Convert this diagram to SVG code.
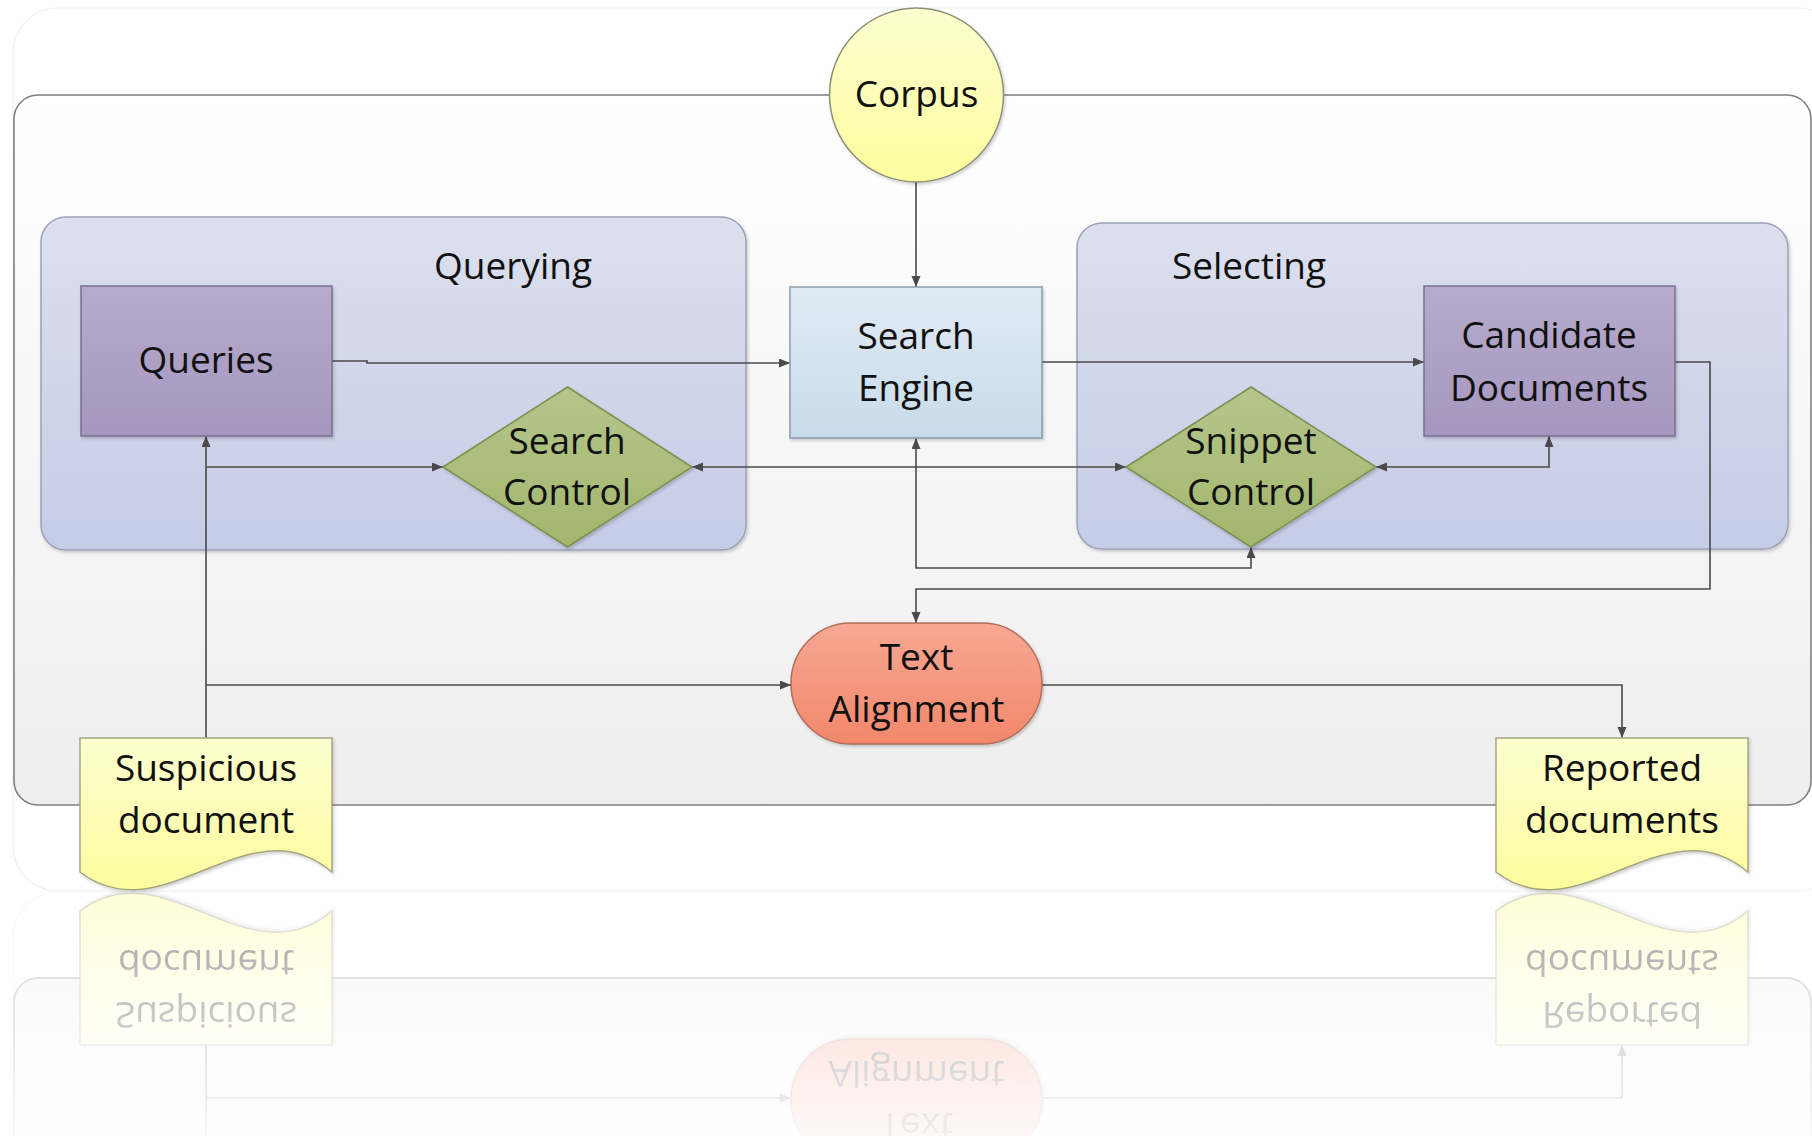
<svg xmlns="http://www.w3.org/2000/svg" xmlns:xlink="http://www.w3.org/1999/xlink" width="1812" height="1136" viewBox="0 0 1812 1136">
  <defs>
    <style>
      text { font-family: "Open Sans", "Liberation Sans", sans-serif; font-size: 37px; fill: #111; text-anchor: middle; }
      .ln { fill: none; stroke: #4a4a4a; stroke-width: 1.6; }
      .arr { marker-end: url(#ah); }
      .arr2 { marker-start: url(#ah); marker-end: url(#ah); }
      .panel { stroke: #9aa1b8; stroke-width: 1.5; fill: url(#gPanel); filter: url(#sh); }
      .box { stroke-width: 1.5; filter: url(#sh); }
    </style>
    <linearGradient id="gOuter" x1="0" y1="0" x2="0" y2="1">
      <stop offset="0" stop-color="#ffffff"/>
      <stop offset="1" stop-color="#eeeeee"/>
    </linearGradient>
    <linearGradient id="gPanel" x1="0" y1="0" x2="0" y2="1">
      <stop offset="0" stop-color="#dce0ee"/>
      <stop offset="1" stop-color="#c5cce6"/>
    </linearGradient>
    <linearGradient id="gPurple" x1="0" y1="0" x2="0" y2="1">
      <stop offset="0" stop-color="#b6abcc"/>
      <stop offset="1" stop-color="#a696bf"/>
    </linearGradient>
    <linearGradient id="gBlue" x1="0" y1="0" x2="0" y2="1">
      <stop offset="0" stop-color="#e0eaf4"/>
      <stop offset="1" stop-color="#c8dbea"/>
    </linearGradient>
    <linearGradient id="gGreen" x1="0" y1="0" x2="0" y2="1">
      <stop offset="0" stop-color="#b5c68c"/>
      <stop offset="1" stop-color="#a2b66c"/>
    </linearGradient>
    <linearGradient id="gSalmon" x1="0" y1="0" x2="0" y2="1">
      <stop offset="0" stop-color="#f7a893"/>
      <stop offset="1" stop-color="#f2876b"/>
    </linearGradient>
    <linearGradient id="gYellow" x1="0" y1="0" x2="0" y2="1">
      <stop offset="0" stop-color="#fefed0"/>
      <stop offset="1" stop-color="#fcfc9e"/>
    </linearGradient>
    <linearGradient id="gFade" gradientUnits="userSpaceOnUse" x1="0" y1="891.5" x2="0" y2="1136">
      <stop offset="0" stop-color="#fff" stop-opacity="0.4"/>
      <stop offset="1" stop-color="#fff" stop-opacity="0.07"/>
    </linearGradient>
    <mask id="fade" maskUnits="userSpaceOnUse" x="0" y="891.5" width="1812" height="245">
      <rect x="0" y="891.5" width="1812" height="245" fill="url(#gFade)"/>
    </mask>
    <filter id="sh" x="-10%" y="-10%" width="125%" height="130%">
      <feDropShadow dx="1.5" dy="2" stdDeviation="1.5" flood-color="#000" flood-opacity="0.18"/>
    </filter>
    <marker id="ah" markerUnits="userSpaceOnUse" markerWidth="12" markerHeight="10" refX="11" refY="4.5" orient="auto-start-reverse">
      <path d="M0,0 L11,4.5 L0,9 z" fill="#4a4a4a"/>
    </marker>
  </defs>

  <rect x="0" y="0" width="1812" height="1136" fill="#ffffff"/>

  <g id="scene">
    <!-- page frame and main container -->
    <rect x="13" y="8" width="1830" height="883" rx="45" fill="#ffffff" stroke="#f0f0f0" stroke-width="1.2"/>
    <rect id="container" x="14" y="95" width="1797" height="710" rx="24" fill="url(#gOuter)" stroke="#7f7f7f" stroke-width="1.6"/>

    <!-- swimlane panels -->
    <g id="querying">
      <rect class="panel" x="41" y="217" width="705" height="333" rx="25"/>
      <text x="513" y="279">Querying</text>
    </g>
    <g id="selecting">
      <rect class="panel" x="1077" y="223" width="711" height="326" rx="25"/>
      <text x="1249" y="279">Selecting</text>
    </g>

    <!-- connectors -->
    <g id="connectors">
      <path class="ln arr" d="M916,182 V287"/>
      <path class="ln arr" d="M332,361 H367 V363 H790"/>
      <path class="ln arr" d="M1042,362 H1424"/>
      <path class="ln arr" d="M206,738 V436"/>
      <path class="ln arr" d="M206,467 H443"/>
      <path class="ln arr2" d="M692,467 H1126"/>
      <path class="ln arr2" d="M1376,467 H1549 V436"/>
      <path class="ln arr2" d="M916,438 V568 H1251 V547"/>
      <path class="ln arr" d="M1675,362 H1710 V589 H916 V623"/>
      <path class="ln arr" d="M206,685 H791"/>
      <path class="ln arr" d="M1042,685 H1622 V738"/>
    </g>

    <!-- nodes -->
    <g id="corpus">
      <circle class="box" cx="916.5" cy="95" r="87" fill="url(#gYellow)" stroke="#8e8e76"/>
      <text x="916.5" y="107">Corpus</text>
    </g>
    <g id="queries">
      <rect class="box" x="81" y="286" width="251" height="150" fill="url(#gPurple)" stroke="#7a6f8c"/>
      <text x="206" y="373">Queries</text>
    </g>
    <g id="search-engine">
      <rect class="box" x="790" y="287" width="252" height="151" fill="url(#gBlue)" stroke="#8a9aab"/>
      <text x="916" y="349">Search</text>
      <text x="916" y="401">Engine</text>
    </g>
    <g id="candidate-documents">
      <rect class="box" x="1424" y="286" width="251" height="150" fill="url(#gPurple)" stroke="#7a6f8c"/>
      <text x="1549" y="348">Candidate</text>
      <text x="1549" y="401">Documents</text>
    </g>
    <g id="search-control">
      <path class="box" d="M443,467 L567.5,387 L692,467 L567.5,547 Z" fill="url(#gGreen)" stroke="#7e904f"/>
      <text x="567" y="454">Search</text>
      <text x="567" y="505">Control</text>
    </g>
    <g id="snippet-control">
      <path class="box" d="M1126,467 L1251,387 L1376,467 L1251,547 Z" fill="url(#gGreen)" stroke="#7e904f"/>
      <text x="1251" y="454">Snippet</text>
      <text x="1251" y="505">Control</text>
    </g>
    <g id="text-alignment">
      <rect class="box" x="791" y="623" width="251" height="121" rx="60" fill="url(#gSalmon)" stroke="#b06e5c"/>
      <text x="916.5" y="670">Text</text>
      <text x="916.5" y="722">Alignment</text>
    </g>
    <g id="suspicious-document">
      <path class="box" d="M80,738 H332 V872 C248,801 164,936 80,872 Z" fill="url(#gYellow)" stroke="#a5a582"/>
      <text x="206" y="781">Suspicious</text>
      <text x="206" y="833">document</text>
    </g>
    <g id="reported-documents">
      <path class="box" d="M1496,738 H1748 V872 C1664,801 1580,936 1496,872 Z" fill="url(#gYellow)" stroke="#a5a582"/>
      <text x="1622" y="781">Reported</text>
      <text x="1622" y="833">documents</text>
    </g>
  </g>

  <!-- mirrored floor reflection, fading out downwards -->
  <g mask="url(#fade)">
    <use xlink:href="#scene" transform="matrix(1 0 0 -1 0 1783)"/>
  </g>
</svg>
